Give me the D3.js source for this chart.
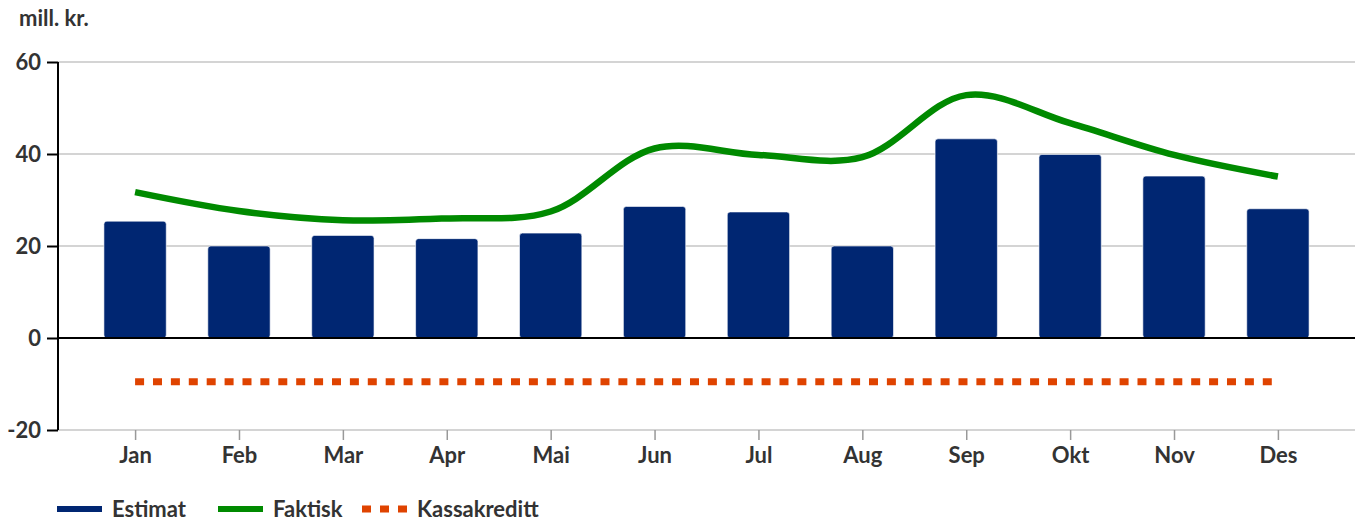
<!DOCTYPE html>
<html>
<head>
<meta charset="utf-8">
<script src="https://cdn.jsdelivr.net/npm/d3@7"></script>
<style>
  html, body { margin: 0; padding: 0; background: #fff; }
  text { font-family: Lato, "Open Sans", sans-serif; font-weight: bold; fill: #333; }
</style>
</head>
<body>
<svg width="1362" height="523"></svg>
<script>
"use strict";

var months = ["Jan", "Feb", "Mar", "Apr", "Mai", "Jun", "Jul", "Aug", "Sep", "Okt", "Nov", "Des"];
var estimat = [25.4, 20.0, 22.3, 21.6, 22.8, 28.6, 27.4, 20.0, 43.3, 39.9, 35.2, 28.1];
var faktisk = [31.7, 27.6, 25.6, 26.0, 27.5, 41.2, 39.8, 39.3, 52.8, 46.7, 39.8, 35.1];
var kassakreditt = [-9.5, -9.5, -9.5, -9.5, -9.5, -9.5, -9.5, -9.5, -9.5, -9.5, -9.5, -9.5];
var yTicks = [-20, 0, 20, 40, 60];
var legendItems = ["Estimat", "Faktisk", "Kassakreditt"];

var colors = { estimat: "#002672", faktisk: "#008a00", kassa: "#df4300" };

var plotLeft = 58, plotRight = 1355, plotTop = 62, plotBottom = 430;
var fontSize = 22;

var svg = d3.select("svg");

var x = d3.scalePoint()
    .domain(months)
    .range([plotLeft, plotRight])
    .padding(0.742);

var y = d3.scaleLinear()
    .domain([-20, 60])
    .range([plotBottom, plotTop]);

var barWidth = x.step() * 0.6;

// Grid lines
svg.append("g")
    .selectAll("line")
    .data(yTicks.filter(function (d) { return d !== 0; }))
    .enter()
    .append("line")
    .attr("x1", plotLeft)
    .attr("x2", plotRight)
    .attr("y1", function (d) { return y(d); })
    .attr("y2", function (d) { return y(d); })
    .attr("stroke", "#c6c6c6")
    .attr("stroke-width", 1.5);

// x axis ticks and labels
var xAxis = svg.append("g")
    .attr("transform", "translate(0," + plotBottom + ")")
    .call(d3.axisBottom(x).tickSize(10).tickPadding(7));
xAxis.select(".domain").remove();
xAxis.selectAll(".tick line").attr("stroke", "#999").attr("stroke-width", 1.5);
xAxis.selectAll(".tick text")
    .attr("font-size", fontSize)
    .attr("fill", "#333")
    .style("font-family", "Lato, sans-serif");

// Bars
svg.append("g")
    .selectAll("rect")
    .data(estimat)
    .enter()
    .append("rect")
    .attr("x", function (d, i) { return x(months[i]) - barWidth / 2; })
    .attr("y", function (d) { return y(d); })
    .attr("width", barWidth)
    .attr("height", function (d) { return y(0) - y(d); })
    .attr("rx", 3)
    .attr("fill", colors.estimat)
    .attr("stroke", "#ffffff")
    .attr("stroke-width", 0.6);

// y axis
var yAxis = svg.append("g")
    .attr("transform", "translate(" + plotLeft + ",0)")
    .call(d3.axisLeft(y).tickValues(yTicks).tickSize(11).tickPadding(6)
        .tickFormat(function (d) { return String(d); }));
yAxis.select(".domain").attr("stroke", "#000").attr("stroke-width", 2).attr("d", "M0," + plotTop + "V" + plotBottom);
yAxis.selectAll(".tick line").attr("stroke", "#000").attr("stroke-width", 2);
yAxis.selectAll(".tick text")
    .attr("font-size", fontSize)
    .attr("fill", "#333")
    .style("font-family", "Lato, sans-serif");

// zero line
svg.append("line")
    .attr("x1", plotLeft)
    .attr("x2", plotRight)
    .attr("y1", y(0))
    .attr("y2", y(0))
    .attr("stroke", "#000")
    .attr("stroke-width", 2);

// Kassakreditt dotted line
var flat = d3.line()
    .x(function (d, i) { return x(months[i]); })
    .y(function (d) { return y(d); });

svg.append("path")
    .datum(kassakreditt)
    .attr("d", flat)
    .attr("fill", "none")
    .attr("stroke", colors.kassa)
    .attr("stroke-width", 7)
    .attr("stroke-dasharray", "9,8.9");

// Faktisk smooth line
var smooth = d3.line()
    .x(function (d, i) { return x(months[i]); })
    .y(function (d) { return y(d); })
    .curve(d3.curveCatmullRom);

svg.append("path")
    .datum(faktisk)
    .attr("d", smooth)
    .attr("fill", "none")
    .attr("stroke", colors.faktisk)
    .attr("stroke-width", 6.5);

// unit label
svg.append("text")
    .attr("x", 19)
    .attr("y", 26)
    .attr("font-size", fontSize)
    .text("mill. kr.");

// Legend
var legendX = [57, 218, 362];
var legend = svg.append("g")
    .selectAll("g")
    .data(legendItems)
    .enter()
    .append("g")
    .attr("transform", function (d, i) { return "translate(" + legendX[i] + ",509)"; });

legend.append("line")
    .attr("x1", 0)
    .attr("x2", 45)
    .attr("y1", 0)
    .attr("y2", 0)
    .attr("stroke", function (d, i) { return [colors.estimat, colors.faktisk, colors.kassa][i]; })
    .attr("stroke-width", function (d, i) { return i === 2 ? 7 : 6; })
    .attr("stroke-dasharray", function (d, i) { return i === 2 ? "9,9" : null; });

legend.append("text")
    .attr("x", 55)
    .attr("y", 8)
    .attr("font-size", fontSize)
    .text(function (d) { return d; });
</script>
</body>
</html>
